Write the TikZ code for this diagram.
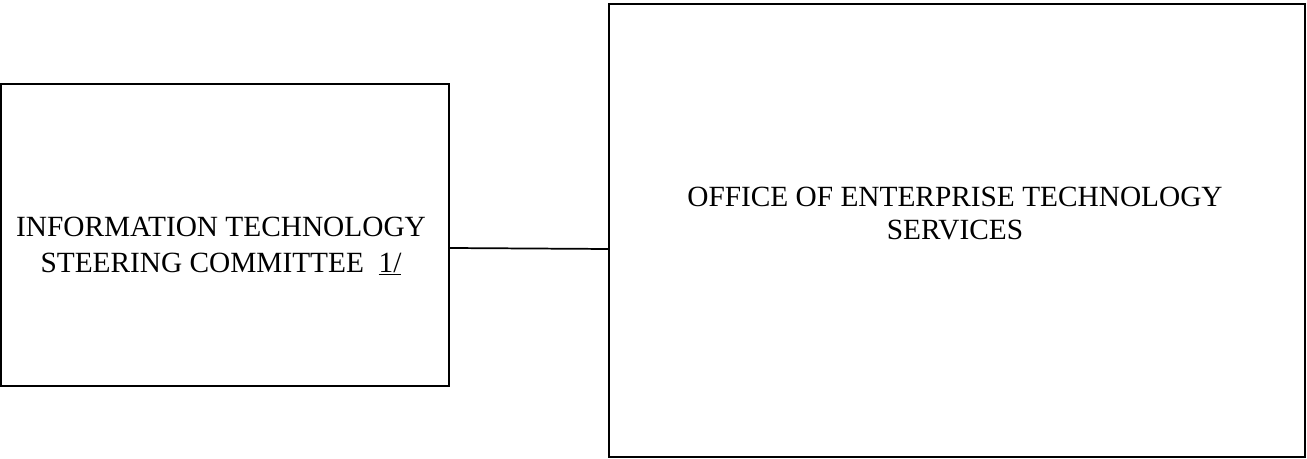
\documentclass[tikz,border=0pt]{standalone}
\usepackage{fontspec}
\setmainfont{Liberation Serif}
\usepackage{tikz}
\definecolor{frame}{rgb}{0,0,0}

\begin{document}
\begin{tikzpicture}[x=0.75pt,y=-0.75pt,
		box/.style={draw=frame,line width=1.3pt,inner sep=0pt,outer sep=0pt},
		boxtext/.style={align=center,font=\fontsize{22}{27}\selectfont}]
				\useasboundingbox (0,0) rectangle (1307,459);
				\coordinate (c1) at (225,235);%steering committee
				\coordinate (c2) at (957,230.5);%enterprise services
				\coordinate (t1) at (221,246);
				\coordinate (t2) at (955,214);
				\node[box,minimum width=336pt,minimum height=226.5pt] (itsc) at (c1) {};
				\node[box,minimum width=522pt,minimum height=340pt] (oets) at (c2) {};
				\node[boxtext] (itsctext) at (t1) {INFORMATION TECHNOLOGY\\ STEERING COMMITTEE\ \ \underline{1/}};
				\node[boxtext,font=\fontsize{22}{24.75}\selectfont] (oetstext) at (t2) {OFFICE OF ENTERPRISE TECHNOLOGY\\SERVICES};
				
				\coordinate (j1) at (itsc.east |- 0,248);
				\coordinate (j2) at (oets.west |- 0,249);
				\draw[line width=1.3pt] (j1) -- (j2);
			\end{tikzpicture}
\end{document}
